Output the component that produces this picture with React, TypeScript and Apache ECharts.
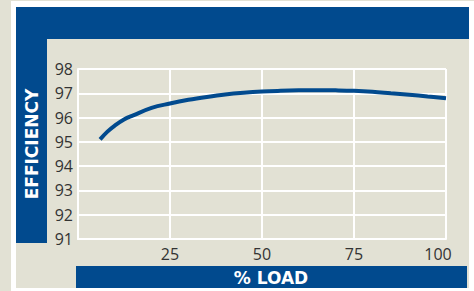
import React, { useEffect, useRef } from "react";
import * as echarts from "echarts";

const loadPct = [6, 8, 10, 12.5, 15, 20, 25, 30, 35, 40, 45, 50, 55, 60, 65, 70, 75, 80, 85, 90, 95, 100];
const efficiency = [95.1, 95.42, 95.67, 95.92, 96.09, 96.4, 96.58, 96.73, 96.85, 96.95, 97.02, 97.07, 97.1, 97.12, 97.13, 97.12, 97.1, 97.06, 97.0, 96.94, 96.87, 96.8];
const yTitle = "EFFICIENCY";
const xTitle = "% LOAD";

const BLUE = "#014a8e";
const BEIGE = "#e2e1d4";
const FONT = "'Open Sans', sans-serif";
const TITLE_FONT = "'DejaVu Sans', sans-serif";

export default function App() {
  const ref = useRef<HTMLDivElement>(null);
  useEffect(() => {
    if (!ref.current) return;
    const chart = echarts.init(ref.current, undefined, { renderer: "svg" });
    chart.setOption({
      animation: false,
      backgroundColor: BEIGE,
      graphic: [
        { type: "rect", z: -10, shape: { x: 11, y: 1, width: 463, height: 290 }, style: { fill: "#ffffff" } },
        { type: "rect", z: -9, shape: { x: 16, y: 7, width: 453, height: 281 }, style: { fill: BEIGE } },
        { type: "rect", z: -8, shape: { x: 16, y: 7, width: 453, height: 32 }, style: { fill: BLUE } },
        { type: "rect", z: -8, shape: { x: 16, y: 7, width: 31, height: 236 }, style: { fill: BLUE } },
        { type: "rect", z: -8, shape: { x: 76, y: 266, width: 391, height: 22 }, style: { fill: BLUE } },
        {
          type: "text", x: 32, y: 144, rotation: Math.PI / 2,
          style: { text: yTitle, fill: "#ffffff", font: `bold 17px ${TITLE_FONT}`, align: "center", verticalAlign: "middle" },
        },
        {
          type: "text", x: 271, y: 278,
          style: { text: xTitle, fill: "#ffffff", font: `bold 17px ${TITLE_FONT}`, align: "center", verticalAlign: "middle" },
        },
      ],
      grid: { left: 78, top: 69, right: 28, bottom: 52 },
      xAxis: {
        type: "value", min: 0, max: 100, interval: 25,
        axisLine: { show: true, lineStyle: { color: "#ffffff", width: 2 } },
        axisTick: { show: false },
        splitLine: { show: true, lineStyle: { color: "#ffffff", width: 2 } },
        axisLabel: {
          color: "#333333", fontFamily: FONT, fontSize: 16, margin: 7,
          formatter: (v: number) => (v === 0 ? "" : v === 100 ? "{m|100}" : String(v)),
          rich: { m: { color: "#333333", fontFamily: FONT, fontSize: 16, padding: [0, 16, 0, 0] } },
        },
      },
      yAxis: {
        type: "value", min: 91, max: 98, interval: 1,
        axisLine: { show: true, lineStyle: { color: "#ffffff", width: 2 } },
        axisTick: { show: false },
        splitLine: { show: true, lineStyle: { color: "#ffffff", width: 2 } },
        axisLabel: { color: "#333333", fontFamily: FONT, fontSize: 16, margin: 5, padding: [0, 0, 4, 0] },
      },
      series: [
        {
          type: "line",
          data: loadPct.map((x, i) => [x, efficiency[i]]),
          smooth: 0.4,
          showSymbol: false,
          lineStyle: { color: BLUE, width: 4 },
        },
      ],
    });
    return () => chart.dispose();
  }, []);
  return <div ref={ref} style={{ position: "fixed", left: 0, top: 0, width: 474, height: 291 }} />;
}
